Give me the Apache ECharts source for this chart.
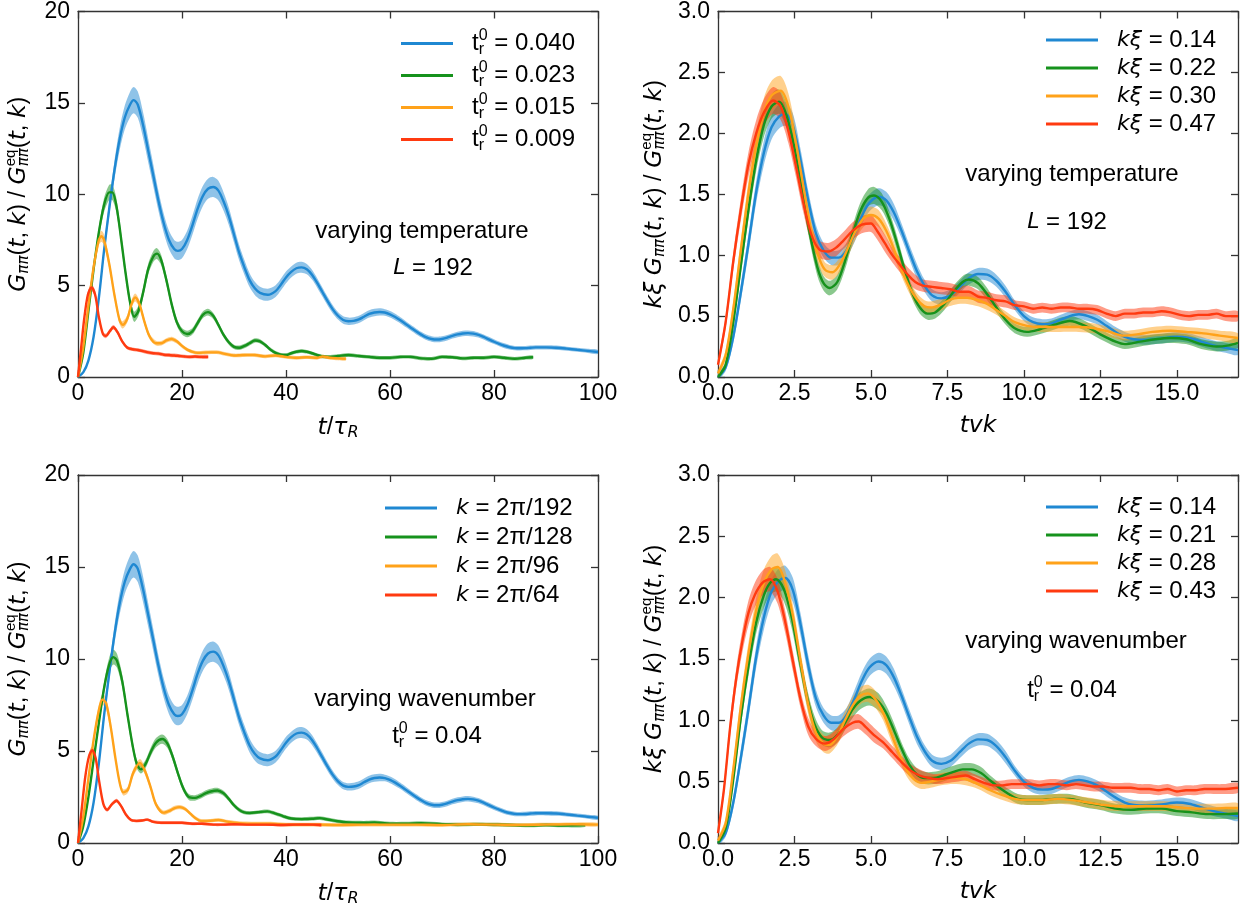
<!DOCTYPE html>
<html><head><meta charset="utf-8">
<script src="https://cdn.jsdelivr.net/npm/echarts/dist/echarts.min.js"></script>
<style>html,body{margin:0;padding:0;background:#fff}#c{width:1248px;height:911px}</style>
</head><body><div id="c"></div>
<script>
// ---------------- DATA: [x, y, halfBandWidth] ----------------
// top-left & bottom-left blue (t_r^0 = 0.040, k = 2pi/192)
const leftBlue = [[0,0,0.02],[1,0.25,0.04],[2,0.9,0.08],[3,2.2,0.13],[4,4.3,0.2],[5,6.9,0.3],[6,9.2,0.4],[7,11.3,0.5],[8,13.0,0.6],[9,14.2,0.65],[10,14.9,0.7],[10.7,15.15,0.72],[11.5,14.9,0.72],[12.5,13.8,0.7],[13.5,12.4,0.65],[14.5,11.0,0.6],[15.5,9.6,0.55],[16.5,8.4,0.52],[17.5,7.5,0.5],[18.5,7.0,0.5],[19.2,6.9,0.5],[20,7.0,0.5],[21,7.5,0.5],[22,8.3,0.52],[23,9.2,0.54],[24,9.9,0.55],[25,10.3,0.55],[26,10.4,0.55],[27,10.2,0.54],[28,9.6,0.5],[29,8.8,0.48],[30,7.8,0.45],[31,6.8,0.42],[32,6.0,0.4],[33,5.3,0.38],[34,4.85,0.36],[35,4.6,0.34],[36.5,4.5,0.33],[38,4.7,0.32],[39,5.05,0.32],[40,5.45,0.32],[41,5.75,0.3],[42,5.95,0.3],[43,6.0,0.3],[44,5.9,0.28],[45,5.6,0.27],[46,5.15,0.26],[47,4.65,0.25],[48,4.15,0.24],[49,3.7,0.22],[50,3.35,0.2],[51,3.12,0.2],[52,3.05,0.2],[53,3.07,0.2],[54,3.15,0.2],[55,3.3,0.2],[56,3.45,0.2],[57,3.53,0.2],[58,3.56,0.2],[59,3.53,0.18],[60,3.43,0.18],[61,3.28,0.18],[62,3.1,0.17],[63,2.9,0.17],[64,2.7,0.16],[65,2.5,0.16],[66,2.32,0.15],[67,2.17,0.15],[68,2.08,0.15],[69,2.05,0.15],[70,2.08,0.15],[71,2.15,0.15],[72,2.25,0.15],[73,2.33,0.15],[74,2.38,0.15],[75,2.4,0.15],[76,2.37,0.15],[77,2.3,0.14],[78,2.19,0.14],[79,2.06,0.14],[80,1.93,0.13],[81,1.81,0.13],[82,1.71,0.13],[83,1.63,0.12],[84,1.58,0.12],[85,1.57,0.12],[86,1.58,0.12],[87,1.6,0.12],[88,1.62,0.12],[90,1.62,0.12],[92,1.6,0.12],[94,1.55,0.11],[96,1.49,0.11],[98,1.43,0.11],[100,1.37,0.11]];
const tlGreen = [[0,0,0.02],[1,1.3,0.08],[2,3.6,0.15],[3,5.9,0.22],[4,7.9,0.3],[5,9.4,0.38],[6,10.1,0.42],[6.6,10.1,0.42],[7.3,9.5,0.4],[8,8.2,0.35],[9,6.0,0.3],[10,4.1,0.28],[10.8,3.3,0.28],[11.6,3.6,0.28],[12.5,4.6,0.28],[13.5,5.9,0.3],[14.5,6.6,0.3],[15.2,6.75,0.3],[16,6.4,0.28],[17,5.3,0.25],[18,4.0,0.22],[19,3.0,0.2],[20,2.5,0.18],[21,2.35,0.18],[22,2.5,0.18],[23,2.95,0.18],[24,3.4,0.18],[25,3.55,0.18],[26,3.35,0.17],[27,2.85,0.15],[28,2.3,0.14],[29,1.9,0.13],[30,1.65,0.12],[31,1.6,0.12],[32,1.7,0.12],[33,1.85,0.12],[34,2.0,0.12],[35,1.95,0.12],[36,1.75,0.11],[37,1.5,0.11],[38,1.32,0.1],[39,1.22,0.1],[40,1.2,0.1],[41,1.3,0.1],[42,1.38,0.1],[43,1.42,0.1],[44,1.38,0.1],[45,1.3,0.1],[46,1.2,0.1],[47,1.12,0.1],[48,1.1,0.1],[50,1.15,0.1],[52,1.2,0.1],[54,1.15,0.1],[56,1.1,0.1],[58,1.05,0.1],[60,1.05,0.1],[62,1.1,0.1],[64,1.1,0.1],[66,1.02,0.1],[68,1.0,0.1],[70,1.1,0.1],[72,1.08,0.1],[74,1.02,0.1],[76,1.05,0.1],[78,1.05,0.1],[80,1.1,0.1],[82,1.05,0.1],[84,1.0,0.1],[86,1.05,0.1],[87.5,1.08,0.1]];
const tlOrange = [[0,0,0.02],[1,1.6,0.1],[2,3.9,0.18],[3,6.0,0.25],[4,7.5,0.3],[4.5,7.7,0.3],[5,7.5,0.3],[6,6.2,0.25],[7,4.5,0.22],[8,3.1,0.2],[8.6,2.85,0.2],[9.5,3.2,0.2],[10.3,4.0,0.22],[11,4.35,0.22],[11.8,4.0,0.2],[12.8,3.0,0.18],[13.8,2.2,0.15],[15,1.85,0.13],[16,1.85,0.12],[17,2.0,0.12],[18,2.08,0.12],[19,1.95,0.12],[20,1.7,0.11],[21,1.5,0.1],[22,1.38,0.1],[23,1.32,0.1],[25,1.35,0.1],[27,1.35,0.1],[28,1.28,0.1],[30,1.18,0.1],[32,1.2,0.1],[34,1.2,0.1],[36,1.13,0.1],[38,1.18,0.1],[40,1.1,0.1],[42,1.05,0.1],[44,1.08,0.1],[46,1.05,0.1],[47,1.12,0.1],[48.5,1.05,0.1],[50,1.02,0.1],[51.5,1.0,0.1]];
const tlRed = [[0,0,0.02],[0.6,1.6,0.1],[1.2,3.2,0.15],[1.9,4.5,0.18],[2.6,4.9,0.2],[3.3,4.5,0.18],[4.0,3.3,0.15],[4.8,2.35,0.12],[5.4,2.25,0.12],[6.1,2.5,0.12],[6.8,2.72,0.12],[7.6,2.45,0.12],[8.5,1.95,0.1],[9.5,1.6,0.1],[10.5,1.52,0.1],[11.5,1.48,0.1],[12.5,1.42,0.1],[13.5,1.35,0.1],[14.5,1.3,0.1],[15.5,1.28,0.1],[16.5,1.22,0.1],[17.5,1.2,0.1],[18.5,1.18,0.1],[19.5,1.15,0.1],[20.5,1.12,0.1],[21.5,1.1,0.1],[22.5,1.12,0.1],[23.5,1.1,0.1],[25,1.1,0.1]];
const blGreen = [[0,0,0.02],[1,0.9,0.06],[2,2.5,0.12],[3,4.5,0.18],[4,6.5,0.25],[5,8.4,0.32],[6,9.7,0.38],[6.8,10.1,0.4],[7.5,9.9,0.38],[8.5,8.8,0.35],[9.5,7.0,0.3],[10.5,5.3,0.26],[11.3,4.3,0.24],[12.1,4.0,0.22],[13,4.3,0.22],[14,4.95,0.24],[15,5.45,0.25],[16.2,5.65,0.25],[17.2,5.4,0.24],[18.2,4.7,0.22],[19.2,3.8,0.2],[20.2,3.0,0.18],[21.3,2.5,0.16],[22.5,2.45,0.15],[23.5,2.55,0.15],[24.5,2.7,0.15],[25.5,2.8,0.15],[26.8,2.85,0.15],[28,2.7,0.14],[29,2.4,0.13],[30,2.05,0.12],[31,1.8,0.11],[32,1.66,0.1],[33,1.63,0.1],[34.5,1.67,0.1],[36.4,1.72,0.1],[38,1.6,0.1],[39.5,1.45,0.1],[41,1.33,0.1],[43,1.3,0.1],[45,1.32,0.1],[46.5,1.35,0.1],[48,1.28,0.1],[50,1.18,0.1],[52,1.12,0.1],[55,1.1,0.1],[57,1.12,0.1],[60,1.05,0.1],[63,1.05,0.1],[66,1.08,0.1],[70,1.02,0.1],[73,1.0,0.1],[77,1.02,0.1],[80,1.0,0.1],[83,0.98,0.1],[87,0.95,0.1],[90,0.98,0.1],[93,0.95,0.1],[97.5,0.97,0.1]];
const blOrange = [[0,0,0.02],[1,1.4,0.08],[2,3.5,0.15],[3,5.6,0.22],[4,7.2,0.28],[4.7,7.8,0.3],[5.4,7.6,0.3],[6.3,6.3,0.25],[7.2,4.6,0.2],[8,3.3,0.18],[8.7,2.75,0.17],[9.6,2.9,0.17],[10.6,3.8,0.2],[11.9,4.35,0.22],[12.9,3.9,0.2],[14,3.0,0.17],[15,2.1,0.14],[16.4,1.65,0.12],[17.6,1.75,0.12],[18.6,1.9,0.12],[19.6,1.95,0.12],[20.6,1.85,0.11],[21.6,1.6,0.1],[22.6,1.35,0.1],[23.6,1.2,0.1],[25,1.2,0.1],[27,1.25,0.1],[29,1.15,0.1],[31,1.08,0.1],[34,1.05,0.1],[37,1.05,0.1],[40,1.0,0.1],[45,1.0,0.1],[50,0.98,0.1],[55,1.0,0.1],[60,1.0,0.1],[65,1.0,0.1],[70,0.98,0.1],[75,1.02,0.1],[80,1.0,0.1],[85,0.98,0.1],[90,1.0,0.1],[95,1.02,0.1],[100,1.0,0.1]];
const blRed = [[0,0,0.02],[0.7,1.8,0.1],[1.4,3.6,0.15],[2.1,4.7,0.18],[2.75,5.05,0.2],[3.4,4.6,0.18],[4.1,3.3,0.15],[4.9,2.1,0.12],[5.6,1.8,0.1],[6.5,2.1,0.1],[7.4,2.3,0.1],[8.3,2.0,0.1],[9.2,1.55,0.1],[10.2,1.25,0.08],[11.2,1.2,0.08],[12.3,1.22,0.08],[13.3,1.27,0.08],[14.5,1.15,0.08],[16,1.1,0.08],[18,1.1,0.08],[20,1.1,0.08],[22,1.05,0.08],[24,1.05,0.08],[26,1.0,0.08],[28,1.0,0.08],[30,1.02,0.08],[33,1.0,0.08],[36,1.0,0.08],[39,0.98,0.08],[42,1.0,0.08],[45,1.0,0.08],[46.8,0.98,0.08]];
// right panels blue (k xi = 0.14), shared by top-right and bottom-right
const rightBlue = [[0,0,0.02],[0.25,0.08,0.03],[0.5,0.33,0.05],[0.75,0.7,0.07],[1.0,1.1,0.08],[1.25,1.52,0.09],[1.5,1.84,0.1],[1.75,2.05,0.1],[2.0,2.14,0.1],[2.2,2.16,0.1],[2.45,2.06,0.1],[2.7,1.78,0.09],[2.95,1.45,0.08],[3.2,1.18,0.07],[3.45,1.04,0.06],[3.7,0.98,0.06],[3.95,0.98,0.06],[4.2,1.04,0.06],[4.45,1.17,0.07],[4.7,1.32,0.07],[4.95,1.43,0.07],[5.25,1.48,0.07],[5.5,1.45,0.07],[5.75,1.35,0.07],[6.0,1.2,0.06],[6.25,1.03,0.06],[6.5,0.87,0.06],[6.75,0.75,0.05],[7.0,0.67,0.05],[7.3,0.645,0.05],[7.6,0.67,0.05],[7.9,0.74,0.05],[8.2,0.81,0.05],[8.5,0.845,0.05],[8.8,0.84,0.05],[9.1,0.79,0.05],[9.4,0.7,0.05],[9.7,0.59,0.04],[10.0,0.5,0.04],[10.3,0.45,0.04],[10.6,0.435,0.04],[10.9,0.44,0.04],[11.2,0.47,0.04],[11.5,0.5,0.04],[11.8,0.515,0.04],[12.1,0.5,0.04],[12.4,0.47,0.04],[12.7,0.42,0.04],[13.0,0.37,0.04],[13.3,0.33,0.04],[13.6,0.31,0.04],[14.0,0.305,0.04],[14.5,0.315,0.04],[15.0,0.33,0.04],[15.4,0.32,0.04],[15.8,0.29,0.04],[16.2,0.26,0.04],[16.6,0.24,0.04],[17.0,0.22,0.04]];
const trGreen = [[0,0,0.02],[0.25,0.1,0.03],[0.5,0.45,0.05],[0.75,0.92,0.07],[1.0,1.38,0.08],[1.25,1.78,0.09],[1.5,2.07,0.1],[1.75,2.22,0.1],[2.0,2.26,0.1],[2.25,2.14,0.1],[2.5,1.88,0.09],[2.75,1.53,0.08],[3.0,1.18,0.07],[3.25,0.9,0.07],[3.45,0.77,0.06],[3.65,0.73,0.06],[3.9,0.78,0.06],[4.15,0.95,0.07],[4.4,1.17,0.07],[4.65,1.36,0.07],[4.9,1.47,0.07],[5.1,1.49,0.07],[5.35,1.44,0.07],[5.6,1.3,0.06],[5.85,1.1,0.06],[6.1,0.88,0.05],[6.35,0.69,0.05],[6.6,0.57,0.05],[6.85,0.52,0.05],[7.1,0.53,0.05],[7.4,0.6,0.05],[7.7,0.7,0.05],[8.0,0.78,0.05],[8.2,0.8,0.05],[8.5,0.77,0.05],[8.8,0.68,0.05],[9.1,0.57,0.04],[9.4,0.47,0.04],[9.7,0.4,0.04],[10.1,0.37,0.04],[10.5,0.39,0.04],[11.0,0.43,0.04],[11.5,0.46,0.04],[12.0,0.42,0.04],[12.5,0.35,0.04],[13.0,0.29,0.04],[13.3,0.27,0.04],[13.8,0.29,0.04],[14.3,0.31,0.04],[14.8,0.32,0.04],[15.3,0.31,0.04],[15.8,0.27,0.04],[16.3,0.25,0.04],[16.7,0.26,0.04],[17.0,0.28,0.04]];
const trOrange = [[0,0.03,0.02],[0.25,0.18,0.04],[0.5,0.56,0.06],[0.75,1.05,0.08],[1.0,1.52,0.1],[1.25,1.9,0.11],[1.5,2.17,0.12],[1.75,2.31,0.12],[2.05,2.35,0.12],[2.3,2.22,0.11],[2.55,1.92,0.1],[2.8,1.55,0.09],[3.05,1.2,0.08],[3.3,0.98,0.07],[3.5,0.88,0.06],[3.75,0.86,0.06],[4.0,0.93,0.06],[4.25,1.06,0.07],[4.5,1.2,0.07],[4.75,1.3,0.07],[5.0,1.33,0.07],[5.25,1.3,0.07],[5.5,1.2,0.06],[5.75,1.05,0.06],[6.0,0.88,0.05],[6.25,0.74,0.05],[6.5,0.64,0.05],[6.75,0.58,0.05],[6.95,0.57,0.05],[7.25,0.59,0.05],[7.55,0.63,0.05],[7.85,0.65,0.05],[8.15,0.65,0.05],[8.5,0.63,0.05],[8.8,0.6,0.05],[9.1,0.55,0.04],[9.4,0.5,0.04],[9.7,0.45,0.04],[10.1,0.42,0.04],[10.6,0.41,0.04],[11.2,0.41,0.04],[11.8,0.41,0.04],[12.3,0.4,0.04],[12.8,0.37,0.04],[13.25,0.34,0.04],[13.7,0.35,0.04],[14.2,0.37,0.04],[14.8,0.38,0.04],[15.3,0.37,0.04],[15.8,0.36,0.04],[16.4,0.34,0.04],[17.0,0.32,0.04]];
const trRed = [[0,0.1,0.03],[0.25,0.45,0.05],[0.5,0.95,0.07],[0.75,1.38,0.09],[1.0,1.75,0.1],[1.25,2.0,0.11],[1.5,2.17,0.11],[1.8,2.27,0.11],[2.05,2.22,0.11],[2.3,2.02,0.1],[2.55,1.73,0.09],[2.8,1.42,0.08],[3.05,1.17,0.07],[3.3,1.05,0.07],[3.6,1.03,0.07],[3.85,1.06,0.07],[4.1,1.12,0.07],[4.4,1.2,0.07],[4.7,1.25,0.07],[5.0,1.26,0.07],[5.2,1.2,0.07],[5.45,1.1,0.07],[5.7,1.0,0.06],[5.95,0.92,0.06],[6.2,0.84,0.06],[6.45,0.78,0.06],[6.7,0.75,0.05],[7.0,0.74,0.05],[7.3,0.73,0.05],[7.6,0.72,0.05],[7.9,0.7,0.05],[8.2,0.7,0.05],[8.5,0.66,0.05],[8.8,0.65,0.05],[9.1,0.63,0.05],[9.4,0.62,0.05],[9.7,0.59,0.04],[10.0,0.58,0.04],[10.3,0.56,0.04],[10.6,0.57,0.04],[10.9,0.56,0.04],[11.2,0.57,0.04],[11.5,0.57,0.04],[11.8,0.56,0.04],[12.1,0.56,0.04],[12.4,0.55,0.04],[12.7,0.52,0.04],[13.0,0.5,0.04],[13.3,0.52,0.04],[13.6,0.52,0.04],[13.9,0.53,0.04],[14.2,0.53,0.04],[14.5,0.54,0.04],[14.8,0.53,0.04],[15.1,0.51,0.04],[15.4,0.5,0.04],[15.7,0.51,0.04],[16.0,0.51,0.04],[16.3,0.52,0.04],[16.6,0.5,0.04],[17.0,0.5,0.04]];
const brGreen = [[0,0,0.02],[0.25,0.12,0.03],[0.5,0.52,0.05],[0.75,1.03,0.07],[1.0,1.45,0.08],[1.25,1.8,0.09],[1.5,2.02,0.1],[1.7,2.12,0.1],[1.9,2.15,0.1],[2.15,2.07,0.1],[2.4,1.85,0.09],[2.65,1.52,0.08],[2.9,1.2,0.07],[3.15,0.97,0.07],[3.4,0.86,0.06],[3.65,0.84,0.06],[3.9,0.88,0.06],[4.15,0.98,0.06],[4.4,1.09,0.07],[4.65,1.16,0.07],[4.95,1.19,0.07],[5.25,1.15,0.07],[5.5,1.06,0.06],[5.75,0.92,0.06],[6.0,0.77,0.05],[6.25,0.64,0.05],[6.5,0.56,0.05],[6.75,0.53,0.05],[7.05,0.53,0.05],[7.35,0.55,0.05],[7.7,0.58,0.05],[8.0,0.6,0.05],[8.3,0.6,0.05],[8.6,0.57,0.05],[8.9,0.51,0.04],[9.2,0.45,0.04],[9.5,0.4,0.04],[9.8,0.36,0.04],[10.1,0.35,0.04],[10.5,0.35,0.04],[11.0,0.36,0.04],[11.5,0.36,0.04],[12.0,0.33,0.04],[12.5,0.31,0.04],[13.0,0.28,0.04],[13.5,0.27,0.04],[14.0,0.28,0.04],[14.5,0.28,0.04],[15.0,0.26,0.04],[15.5,0.25,0.04],[16.0,0.235,0.04],[16.5,0.235,0.04],[17.0,0.24,0.04]];
const brOrange = [[0,0.02,0.02],[0.25,0.16,0.04],[0.5,0.6,0.06],[0.75,1.12,0.08],[1.0,1.55,0.09],[1.25,1.9,0.1],[1.5,2.12,0.11],[1.75,2.23,0.11],[1.95,2.25,0.11],[2.2,2.12,0.1],[2.45,1.85,0.09],[2.7,1.48,0.08],[2.95,1.13,0.08],[3.2,0.9,0.07],[3.45,0.81,0.07],[3.65,0.8,0.07],[3.9,0.87,0.07],[4.15,1.0,0.07],[4.4,1.12,0.07],[4.65,1.2,0.07],[4.9,1.22,0.07],[5.15,1.17,0.07],[5.4,1.06,0.06],[5.65,0.9,0.06],[5.9,0.74,0.05],[6.15,0.6,0.05],[6.4,0.52,0.05],[6.65,0.49,0.05],[6.95,0.5,0.05],[7.3,0.52,0.05],[7.7,0.53,0.05],[8.1,0.52,0.05],[8.5,0.48,0.04],[8.9,0.43,0.04],[9.3,0.39,0.04],[9.7,0.36,0.04],[10.1,0.35,0.04],[10.6,0.35,0.04],[11.1,0.36,0.04],[11.6,0.35,0.04],[12.1,0.33,0.04],[12.6,0.31,0.04],[13.1,0.3,0.04],[13.6,0.3,0.04],[14.1,0.3,0.04],[14.6,0.3,0.04],[15.1,0.29,0.04],[15.6,0.28,0.04],[16.1,0.28,0.04],[16.6,0.285,0.04],[17.0,0.285,0.04]];
const brRed = [[0,0.08,0.03],[0.2,0.45,0.05],[0.4,0.95,0.07],[0.6,1.35,0.08],[0.8,1.65,0.09],[1.0,1.88,0.1],[1.2,2.02,0.1],[1.45,2.12,0.1],[1.7,2.15,0.1],[1.95,2.05,0.1],[2.2,1.8,0.09],[2.45,1.48,0.08],[2.7,1.17,0.07],[2.95,0.95,0.07],[3.2,0.85,0.06],[3.5,0.81,0.06],[3.8,0.85,0.06],[4.1,0.93,0.06],[4.4,0.98,0.06],[4.6,0.99,0.06],[4.85,0.94,0.06],[5.1,0.88,0.06],[5.4,0.82,0.05],[5.7,0.74,0.05],[6.0,0.66,0.05],[6.3,0.59,0.05],[6.6,0.55,0.05],[6.9,0.53,0.04],[7.2,0.52,0.04],[7.5,0.53,0.04],[7.8,0.54,0.04],[8.1,0.55,0.04],[8.4,0.52,0.04],[8.7,0.49,0.04],[9.0,0.47,0.04],[9.3,0.47,0.04],[9.6,0.48,0.04],[9.9,0.48,0.04],[10.2,0.48,0.04],[10.5,0.47,0.04],[10.8,0.48,0.04],[11.1,0.48,0.04],[11.4,0.47,0.04],[11.7,0.48,0.04],[12.0,0.47,0.04],[12.3,0.46,0.04],[12.6,0.46,0.04],[12.9,0.45,0.04],[13.2,0.45,0.04],[13.5,0.45,0.04],[13.8,0.44,0.04],[14.1,0.44,0.04],[14.4,0.43,0.04],[14.7,0.44,0.04],[15.0,0.42,0.04],[15.3,0.43,0.04],[15.6,0.43,0.04],[15.9,0.44,0.04],[16.2,0.44,0.04],[16.5,0.44,0.04],[17.0,0.45,0.04]];

// legend values
const tlLabels = ['0.040', '0.023', '0.015', '0.009'];
const blLabels = ['192', '128', '96', '64'];
const trLabels = ['0.14', '0.22', '0.30', '0.47'];
const brLabels = ['0.14', '0.21', '0.28', '0.43'];
// axis ticks
const leftXTicks = [0, 20, 40, 60, 80, 100];
const leftYTicks = [0, 5, 10, 15, 20];
const rightXTicks = [0, 2.5, 5, 7.5, 10, 12.5, 15];
const rightYTicks = [0, 0.5, 1, 1.5, 2, 2.5, 3];
const rightXMax = 17;

// ---------------- STYLE ----------------
const COLORS = ['#1f88d2', '#16921c', '#ffa21a', '#ff3a10'];
const FONT = '"Liberation Sans", Arial, Helvetica, sans-serif';
const MFONT = '"DejaVu Sans", sans-serif';
const FS = 24;
const AX = '#333';

const RICH = {
  n:  {fontFamily: FONT, fontSize: FS, color: '#000'},
  i:  {fontFamily: MFONT, fontStyle: 'italic', fontSize: FS - 2, color: '#000'},
  ln: {fontFamily: FONT, fontSize: FS, color: '#000', padding: [0, 0, 0, 14]},
  li: {fontFamily: MFONT, fontStyle: 'italic', fontSize: FS - 2, color: '#000', padding: [0, 0, 0, 14]},
  r0: {fontFamily: FONT, fontSize: 16, color: '#000', padding: [13, -5.33, 0, 0]},
  s0: {fontFamily: FONT, fontSize: 16, color: '#000', padding: [0, 0, 15, 0]}
};
const YRICH = {
  G:  {fontFamily: MFONT, fontStyle: 'italic', fontSize: 23.5, color: '#000'},
  p:  {fontFamily: FONT, fontSize: 23.5, color: '#000'},
  pp: {fontFamily: MFONT, fontStyle: 'italic', fontSize: 15, color: '#000', padding: [11, 0, 0, 0]},
  eq: {fontFamily: FONT, fontSize: 15, color: '#000', padding: [0, -16.68, 17, 0]},
  sb: {fontFamily: MFONT, fontStyle: 'italic', fontSize: 16, color: '#000', padding: [11, 0, 0, 0]}
};

const trTitle = '{G|G}{pp|ππ}{p|(}{G|t}{p|, }{G|k}{p|)}{p| / }{G|G}{eq|eq}{pp|ππ}{p|(}{G|t}{p|, }{G|k}{p|)}';
const rTitle = '{G|kξ}{p| }' + trTitle;
const tTitle = '{G|t}{p|/}{G|τ}{sb|R}';
const tvkTitle = '{G|tvk}';

const grids = [
  {left: 78, top: 8, width: 520, height: 369},
  {left: 718, top: 8, width: 520, height: 369},
  {left: 78, top: 475, width: 520, height: 368},
  {left: 718, top: 475, width: 520, height: 368}
];

function baseAxis(extra) {
  return Object.assign({
    type: 'value',
    axisLine: {show: true, onZero: false, lineStyle: {color: AX, width: 1.3}},
    axisTick: {show: true, inside: true, length: 7, lineStyle: {color: AX, width: 1.3}},
    splitLine: {show: false},
    axisLabel: {show: false}
  }, extra);
}
const xAxes = [], yAxes = [];
function addAxes(g, left) {
  const xt = left ? leftXTicks : rightXTicks;
  const yt = left ? leftYTicks : rightYTicks;
  const xmax = left ? xt[xt.length - 1] : rightXMax;
  const xint = xt[1] - xt[0], yint = yt[1] - yt[0];
  const xfmt = v => left ? String(v) : v.toFixed(1);
  const yfmt = v => left ? String(v) : v.toFixed(1);
  xAxes.push(baseAxis({gridIndex: g, position: 'bottom', min: xt[0], max: xmax, interval: xint,
    axisLabel: {show: true, showMaxLabel: left, fontFamily: FONT, fontSize: 23, color: '#000', margin: 5, formatter: xfmt},
    name: left ? tTitle : tvkTitle, nameLocation: 'middle', nameGap: 37,
    nameTextStyle: {rich: YRICH}}));
  xAxes.push(baseAxis({gridIndex: g, position: 'top', min: xt[0], max: xmax, interval: xint}));
  yAxes.push(baseAxis({gridIndex: g, position: 'left', min: yt[0], max: yt[yt.length - 1], interval: yint,
    axisLabel: {show: true, fontFamily: FONT, fontSize: 23, color: '#000', margin: 8, formatter: yfmt},
    name: left ? trTitle : rTitle, nameLocation: 'middle', nameRotate: 90, nameGap: left ? 43 : 47,
    nameTextStyle: {rich: YRICH}}));
  yAxes.push(baseAxis({gridIndex: g, position: 'right', min: yt[0], max: yt[yt.length - 1], interval: yint}));
}
addAxes(0, true); addAxes(1, false); addAxes(2, true); addAxes(3, false);

const panels = [
  {g: 0, curves: [leftBlue, tlGreen, tlOrange, tlRed], names: tlLabels.map(v => 't_r^0 = ' + v),
   fmt: tlLabels.map(v => '{ln|t}{r0|r}{s0|0}{n| = ' + v + '}')},
  {g: 1, curves: [rightBlue, trGreen, trOrange, trRed], names: trLabels.map(v => 'kξ = ' + v + ' (T)'),
   fmt: trLabels.map(v => '{li|kξ}{n| = ' + v + '}')},
  {g: 2, curves: [leftBlue, blGreen, blOrange, blRed], names: blLabels.map(v => 'k = 2π/' + v),
   fmt: blLabels.map(v => '{li|k}{n| = 2π/' + v + '}')},
  {g: 3, curves: [rightBlue, brGreen, brOrange, brRed], names: brLabels.map(v => 'kξ = ' + v + ' (W)'),
   fmt: brLabels.map(v => '{li|kξ}{n| = ' + v + '}')}
];

const series = [];
const fmtMap = {};
panels.forEach(p => {
  p.curves.forEach((d, j) => {
    const color = COLORS[j];
    // confidence band: polygon built through the axis scales
    series.push({type: 'custom', xAxisIndex: 2 * p.g, yAxisIndex: 2 * p.g, silent: true, clip: true,
      animation: false, data: [[d[0][0], d[0][1]]],
      renderItem: function (params, api) {
        const up = d.map(q => api.coord([q[0], q[1] + q[2]]));
        const lo = d.map(q => api.coord([q[0], q[1] - q[2]])).reverse();
        return {type: 'polygon', shape: {points: up.concat(lo), smooth: 0.3},
          style: {fill: color, opacity: 0.5}};
      }});
    series.push({type: 'line', name: p.names[j], color: color, xAxisIndex: 2 * p.g, yAxisIndex: 2 * p.g,
      symbol: 'none', smooth: 0.3, silent: true, animation: false,
      data: d.map(q => [q[0], q[1]]), lineStyle: {color: color, width: 2.4}});
    fmtMap[p.names[j]] = p.fmt[j];
  });
});

function legendCfg(p, left, top, gap) {
  return {orient: 'vertical', left: left, top: top, itemWidth: 52, itemHeight: 3, itemGap: gap,
    icon: 'rect', padding: 0, selectedMode: false, data: p.names,
    formatter: n => fmtMap[n], textStyle: {fontFamily: FONT, fontSize: FS, color: '#000', rich: RICH}};
}

function txt(x, y, text) {
  return {type: 'text', x: x, y: y, silent: true, z: 100,
    style: {text: text, rich: RICH, fontFamily: FONT, fontSize: FS, fill: '#000',
      align: 'center', verticalAlign: 'middle', textAlign: 'center', textVerticalAlign: 'middle'}};
}

const option = {
  animation: false,
  grid: grids,
  xAxis: xAxes,
  yAxis: yAxes,
  legend: [
    legendCfg(panels[0], 401, 28, 2),
    legendCfg(panels[1], 1046, 28, 4),
    legendCfg(panels[2], 385, 496, 5),
    legendCfg(panels[3], 1046, 495, 4)
  ],
  series: series,
  graphic: [
    txt(422, 231, 'varying temperature'),
    txt(433, 268, '{i|L}{n| = 192}'),
    txt(1072, 174, 'varying temperature'),
    txt(1067, 222, '{i|L}{n| = 192}'),
    txt(425, 699, 'varying wavenumber'),
    txt(437, 736, '{n|t}{r0|r}{s0|0}{n| = 0.04}'),
    txt(1076, 641, 'varying wavenumber'),
    txt(1072, 690, '{n|t}{r0|r}{s0|0}{n| = 0.04}')
  ]
};
const chart = echarts.init(document.getElementById('c'), null, {renderer: 'canvas'});
chart.setOption(option);
</script>
</body></html>
